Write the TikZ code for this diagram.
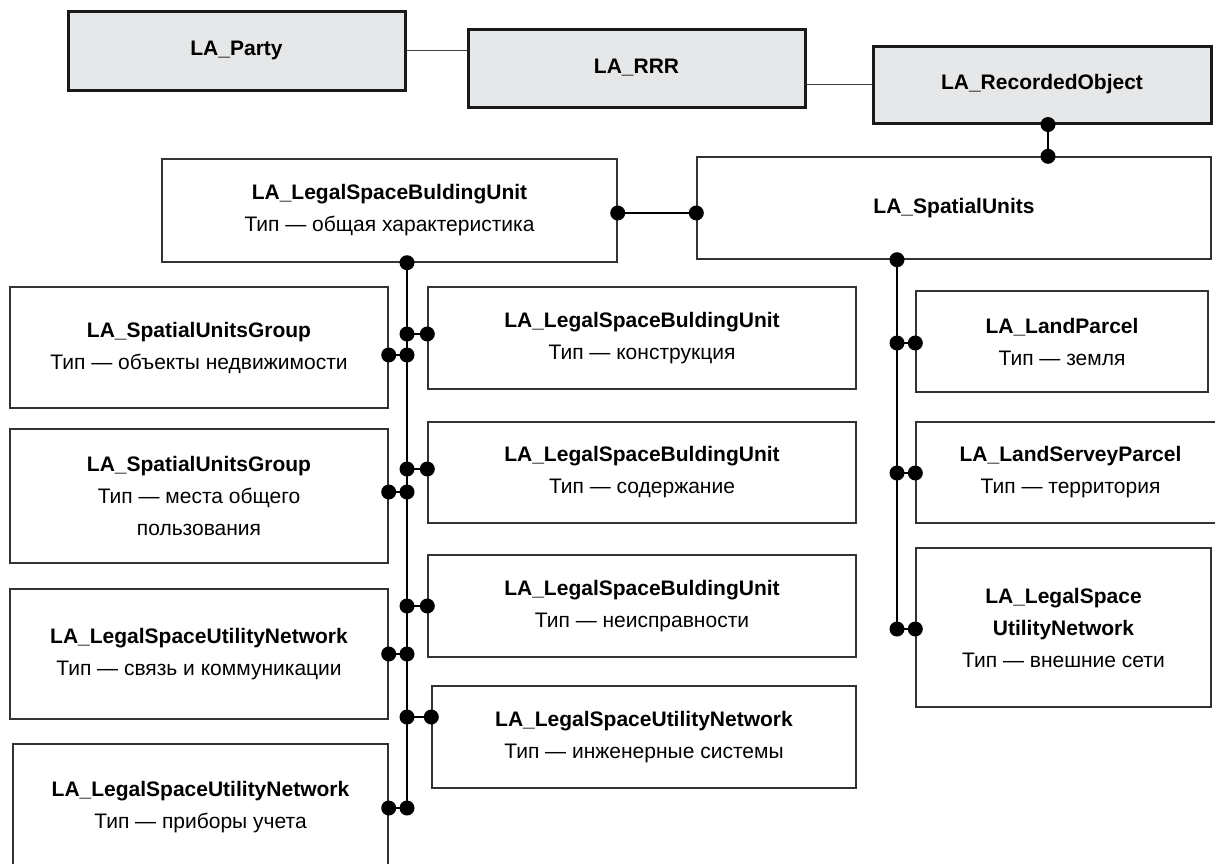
\documentclass[tikz,border=0pt]{standalone}
\usepackage{fontspec}
\setmainfont{Liberation Sans}
\definecolor{boxgray}{HTML}{E6E7E8}
\definecolor{edge}{HTML}{333333}
\newcommand\fs{\fontsize{21}{32}\selectfont}
\tikzset{
  gbox/.style={draw=black!90, line width=3pt, fill=boxgray, inner sep=0pt, font=\fs\bfseries},
  wbox/.style={draw=edge, line width=1.4pt, fill=white, inner sep=0pt, align=center, font=\fs},
  conn/.style={draw=black, line width=1.8pt},
  topconn/.style={draw=black!75, line width=1.5pt},
  dotfill/.style={fill=black}
}
\begin{document}
\begin{tikzpicture}[x=1pt,y=-1pt]
\clip (0,0) rectangle (1215,863);
\fill[white] (0,0) rectangle (1215,863);
% top row
\node[gbox, minimum width=337, minimum height=79] (party) at (236.5,50.5) {LA\_Party};
\node[gbox, minimum width=337, minimum height=78] (rrr) at (636.5,68) {LA\_RRR};
\node[gbox, minimum width=338, minimum height=77] (rec) at (1042,84.5) {LA\_RecordedObject};
% second row
\node[wbox, minimum width=455, minimum height=103] (lsbu0) at (389.5,210.5) {\textbf{LA\_LegalSpaceBuldingUnit}\\Тип — общая характеристика};
\node[wbox, minimum width=514, minimum height=102] (su) at (954,208) {\textbf{LA\_SpatialUnits}};
% left column
\node[wbox, minimum width=378, minimum height=121] (sug1) at (199,347.5) {\textbf{LA\_SpatialUnitsGroup}\\Тип — объекты недвижимости};
\node[wbox, minimum width=378, minimum height=134] (sug2) at (199,496) {\textbf{LA\_SpatialUnitsGroup}\\Тип — места общего\\пользования};
\node[wbox, minimum width=378, minimum height=130] (lsunA) at (199,654) {\textbf{LA\_LegalSpaceUtilityNetwork}\\Тип — связь и коммуникации};
\node[wbox, minimum width=375, minimum height=126] (lsunB) at (200.5,807) {\textbf{LA\_LegalSpaceUtilityNetwork}\\Тип — приборы учета};
% middle column
\node[wbox, minimum width=428, minimum height=102] (lsbu1) at (642,338) {\textbf{LA\_LegalSpaceBuldingUnit}\\Тип — конструкция};
\node[wbox, minimum width=428, minimum height=101] (lsbu2) at (642,472.5) {\textbf{LA\_LegalSpaceBuldingUnit}\\Тип — содержание};
\node[wbox, minimum width=428, minimum height=102] (lsbu3) at (642,606) {\textbf{LA\_LegalSpaceBuldingUnit}\\Тип — неисправности};
\node[wbox, minimum width=424, minimum height=102] (lsunM) at (644,737) {\textbf{LA\_LegalSpaceUtilityNetwork}\\Тип — инженерные системы};
% right column
\node[wbox, minimum width=292, minimum height=101] (lp) at (1062,341.5) {\textbf{LA\_LandParcel}\\Тип — земля};
\node[wbox, minimum width=309, minimum height=101] (lsp) at (1070.5,472.5) {\textbf{LA\_LandServeyParcel}\\Тип — территория};
\node[wbox, minimum width=295, minimum height=159] (lsunE) at (1063.5,627.5) {\textbf{LA\_LegalSpace}\\\textbf{UtilityNetwork}\\Тип — внешние сети};
% top connectors
\draw[topconn] (party.east) -- (party.east -| rrr.west);
\draw[topconn] (rrr.east |- rec.west) -- (rec.west);
% RecordedObject - SpatialUnits
\coordinate (rA) at (rec.south -| 1048,0);
\coordinate (rB) at (su.north -| 1048,0);
\draw[conn] (rA) -- (rB);
\fill[dotfill] (rA) circle[radius=7.5pt];
\fill[dotfill] (rB) circle[radius=7.5pt];
% LSBU0 - SpatialUnits
\coordinate (hA) at (lsbu0.east |- 0,213);
\coordinate (hB) at (su.west |- 0,213);
\draw[conn] (hA) -- (hB);
\fill[dotfill] (hA) circle[radius=7.5pt];
\fill[dotfill] (hB) circle[radius=7.5pt];
% left spine
\coordinate (spL) at (lsbu0.south -| 407,0);
\draw[conn] (spL) -- (407,808);
\fill[dotfill] (spL) circle[radius=7.5pt];
\foreach \n/\yy in {sug1/355, sug2/492, lsunA/654, lsunB/808}{
  \draw[conn] (407,\yy) -- (\n.east |- 0,\yy);
  \fill[dotfill] (407,\yy) circle[radius=7.5pt];
  \fill[dotfill] (\n.east |- 0,\yy) circle[radius=7.5pt];
}
\foreach \n/\yy in {lsbu1/334, lsbu2/469, lsbu3/606, lsunM/717}{
  \draw[conn] (407,\yy) -- (\n.west |- 0,\yy);
  \fill[dotfill] (407,\yy) circle[radius=7.5pt];
  \fill[dotfill] (\n.west |- 0,\yy) circle[radius=7.5pt];
}
% right spine
\coordinate (spR) at (su.south -| 897,0);
\draw[conn] (spR) -- (897,629);
\fill[dotfill] (spR) circle[radius=7.5pt];
\foreach \n/\yy in {lp/343, lsp/473, lsunE/629}{
  \draw[conn] (897,\yy) -- (\n.west |- 0,\yy);
  \fill[dotfill] (897,\yy) circle[radius=7.5pt];
  \fill[dotfill] (\n.west |- 0,\yy) circle[radius=7.5pt];
}
\end{tikzpicture}
\end{document}
